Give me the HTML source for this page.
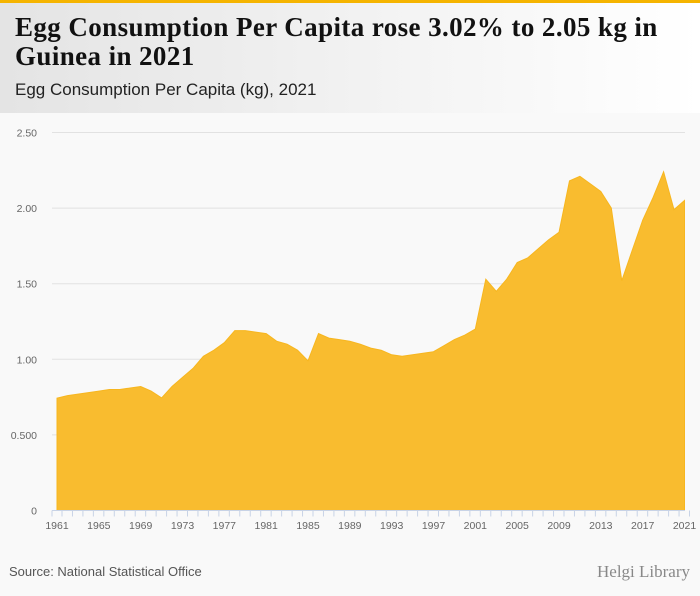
<!DOCTYPE html>
<html><head><meta charset="utf-8"><style>
body{margin:0;width:700px;height:596px;overflow:hidden;background:#f9f9f9;font-family:"Liberation Sans",sans-serif}
#hdr{position:absolute;left:0;top:0;width:700px;height:113px;background:linear-gradient(90deg,#e4e4e4,#ffffff)}
#bar{position:absolute;left:0;top:0;width:700px;height:3px;background:#f5b400}
#title{position:absolute;left:15px;top:13px;font-family:"Liberation Serif",serif;font-weight:bold;font-size:27px;line-height:29px;color:#111;letter-spacing:0.4px;white-space:nowrap}
#sub{position:absolute;left:15px;top:80px;font-size:17px;color:#222}
svg{position:absolute;left:0;top:0}
</style></head><body>
<div id="hdr"></div>
<div id="bar"></div>
<div id="title">Egg Consumption Per Capita rose 3.02% to 2.05 kg in<br>Guinea in 2021</div>
<div id="sub">Egg Consumption Per Capita (kg), 2021</div>
<svg id="chart" width="700" height="596"></svg>
<script>
const years=[];for(let y=1961;y<=2021;y++)years.push(y);
const values=[0.743,0.76,0.77,0.78,0.79,0.80,0.80,0.81,0.82,0.79,0.745,0.82,0.88,0.94,1.02,1.06,1.11,1.19,1.19,1.18,1.17,1.12,1.10,1.06,0.99,1.17,1.14,1.13,1.12,1.10,1.074,1.06,1.03,1.02,1.03,1.04,1.05,1.09,1.13,1.16,1.20,1.53,1.45,1.53,1.64,1.67,1.73,1.79,1.84,2.18,2.21,2.16,2.11,2.00,1.52,1.72,1.92,2.07,2.24,1.99,2.05];
const yTicks=[0,0.5,1.0,1.5,2.0,2.5];
const yTickLabels=["0","0.500","1.00","1.50","2.00","2.50"];
const NS="http://www.w3.org/2000/svg";
const svg=document.getElementById('chart');
const x0=57,x1=684.5,yb=510.5,yt=132.5;
const xs=y=>x0+(y-1961)*(x1-x0)/60;
const ys=v=>yb-v*(yb-yt)/2.5;
function mk(t,a){const e=document.createElementNS(NS,t);for(const k in a)e.setAttribute(k,a[k]);svg.appendChild(e);return e;}
yTicks.forEach((v,i)=>{
  if(v>0){const g=mk('line',{x1:52,x2:685,y1:ys(v),y2:ys(v),stroke:'#e2e2e2','stroke-width':1});
  
  }
  const t=mk('text',{x:37,y:ys(v)+4,'text-anchor':'end','font-size':'10.5',fill:'#666'});
  t.textContent=yTickLabels[i];
  
  
});
let d='M'+xs(years[0])+','+yb;
years.forEach((y,i)=>{d+=' L'+xs(y).toFixed(1)+','+ys(values[i]).toFixed(1);});
d+=' L'+xs(years[years.length-1])+','+yb+' Z';
const area=mk('path',{d:d,fill:'#f9bc2f',stroke:'#f7b61f','stroke-width':1});


const ax=mk('line',{x1:52,x2:685,y1:yb,y2:yb,stroke:'#c8d3e6','stroke-width':1});


mk('line',{x1:52,x2:52,y1:yb,y2:yb+6,stroke:'#c8d3e6'});
years.forEach((y,i)=>{
  const tk=mk('line',{x1:xs(y)+5,x2:xs(y)+5,y1:yb,y2:yb+6,stroke:'#c8d3e6','stroke-width':1});
  
  
  if(i%4===0){const t=mk('text',{x:xs(y),y:529,'text-anchor':'middle','font-size':'10.5',fill:'#666'});
  t.textContent=y;
  
  }
});
const src=mk('text',{x:9,y:576,'font-size':'13',fill:'#555'});
src.textContent='Source: National Statistical Office';


const logo=mk('text',{x:690,y:577,'text-anchor':'end','font-size':'17','font-family':'Liberation Serif, serif',fill:'#888'});
logo.textContent='Helgi Library';


</script>
</body></html>
